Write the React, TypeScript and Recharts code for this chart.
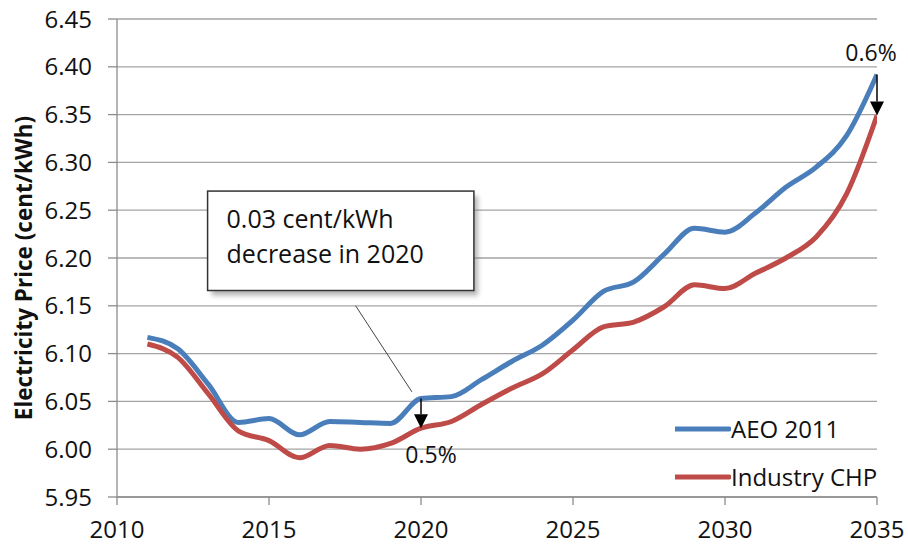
import {LineChart, Line, XAxis, YAxis, CartesianGrid, ReferenceLine, ReferenceArea, Legend} from "recharts";

const years = [
    2011, 2012, 2013, 2014, 2015, 2016, 2017, 2018, 2019, 2020, 2021, 2022, 2023,
    2024, 2025, 2026, 2027, 2028, 2029, 2030, 2031, 2032, 2033, 2034, 2035
]

const aeo2011 = [
    6.117, 6.105, 6.068, 6.028, 6.032, 6.015, 6.029, 6.028, 6.027, 6.053, 6.055, 6.073, 6.092,
    6.109, 6.135, 6.165, 6.175, 6.204, 6.231, 6.227, 6.247, 6.274, 6.295, 6.328, 6.392
]

const industryChp = [
    6.110, 6.096, 6.058, 6.019, 6.009, 5.991, 6.004, 6.000, 6.006, 6.022, 6.029, 6.047, 6.064,
    6.079, 6.104, 6.128, 6.133, 6.149, 6.172, 6.168, 6.184, 6.200, 6.222, 6.267, 6.349
]

const xTicks = [2010, 2015, 2020, 2025, 2030, 2035]
const yTicks = [5.95, 6.00, 6.05, 6.10, 6.15, 6.20, 6.25, 6.30, 6.35, 6.40, 6.45]

// arrows showing the gap between the two series
const gapYears = [2020, 2035]
const gapLabels = ["0.5%", "0.6%"]

const calloutLines = ["0.03 cent/kWh", "decrease in 2020"]

const data = years.map((year, i) => ({
    year,
    aeo: aeo2011[i],
    chp: industryChp[i]
}))

const FONT = "'Open Sans', 'Noto Sans', sans-serif"
const BLUE = "#4a7ebb"
const RED = "#be4b48"

const GapArrow = (props: any) => {
    const {x1, y1, x2, y2, labelText, below} = props
    const head = 14
    return (
        <g>
            <line x1={x1} y1={y1} x2={x2} y2={y2 - head} stroke="#000" strokeWidth={1.5}/>
            <polygon points={`${x2 - 7},${y2 - head} ${x2 + 7},${y2 - head} ${x2},${y2}`} fill="#000"/>
            <text
                x={below ? x2 + 10 : x2 - 6}
                y={below ? y2 + 35 : y1 - 13}
                textAnchor="middle"
                fontSize={23}
                fontFamily={FONT}
                fill="#111"
            >
                {labelText}
            </text>
        </g>
    )
}

const Callout = (props: any) => {
    const {x, y, width, height} = props
    return (
        <g>
            <defs>
                <filter id="calloutShadow" x="-10%" y="-10%" width="130%" height="140%">
                    <feGaussianBlur stdDeviation="2.5"/>
                </filter>
            </defs>
            <rect x={x + 4} y={y + 5} width={width} height={height} fill="#777" opacity={0.55} filter="url(#calloutShadow)"/>
            <rect x={x} y={y} width={width} height={height} fill="#fff" stroke="#333" strokeWidth={1.5}/>
            {calloutLines.map((t, i) => (
                <text key={i} x={x + 19} y={y + 37 + i * 35} fontSize={25} fontFamily={FONT} fill="#111">
                    {t}
                </text>
            ))}
        </g>
    )
}

const LegendContent = ({payload}: any) => (
    <div style={{fontFamily: FONT, fontSize: 24, color: "#111"}}>
        {(payload || []).map((entry: any, i: number) => (
            <div key={i} style={{display: "flex", alignItems: "center", height: 48}}>
                <svg width={56} height={8} style={{display: "block"}}>
                    <line x1={0} y1={4} x2={54} y2={4} stroke={entry.color} strokeWidth={5} strokeLinecap="round"/>
                </svg>
                <span style={{lineHeight: 1}}>{entry.value}</span>
            </div>
        ))}
    </div>
)

const YTitle = ({viewBox}: any) => {
    const cx = viewBox.x + 23
    const cy = viewBox.y + viewBox.height / 2 + 10
    return (
        <text
            x={cx}
            y={cy}
            transform={`rotate(-90, ${cx}, ${cy})`}
            textAnchor="middle"
            dominantBaseline="central"
            fontSize={22.5}
            fontWeight="bold"
            fontFamily={FONT}
            fill="#111"
        >
            Electricity Price (cent/kWh)
        </text>
    )
}

const App = () => {
    return (
        <div style={{position: "absolute", left: 0, top: 0, width: 908, height: 546, background: "#fff", fontFamily: FONT}}>
            <LineChart width={908} height={546} data={data} margin={{top: 19, right: 31, bottom: 0, left: 0}}>
                <CartesianGrid vertical={false} stroke="#a3a3a3" strokeWidth={1.3}/>
                <XAxis
                    dataKey="year"
                    type="number"
                    domain={[2010, 2035]}
                    ticks={xTicks}
                    height={49}
                    tickSize={8}
                    tickMargin={16}
                    stroke="#8c8c8c"
                    strokeWidth={1.3}
                    tick={{fill: "#111", fontSize: 24, fontFamily: FONT}}
                    allowDataOverflow
                />
                <YAxis
                    type="number"
                    domain={[5.95, 6.45]}
                    ticks={yTicks}
                    width={117}
                    tickSize={9}
                    tickMargin={16}
                    stroke="#8c8c8c"
                    strokeWidth={1.3}
                    tick={{fill: "#111", fontSize: 24, fontFamily: FONT}}
                    tickFormatter={(v: number) => v.toFixed(2)}
                    label={<YTitle/>}
                    allowDataOverflow
                />
                <Line
                    dataKey="aeo"
                    name="AEO 2011"
                    type="monotone"
                    stroke={BLUE}
                    strokeWidth={5}
                    dot={false}
                    isAnimationActive={false}
                />
                <Line
                    dataKey="chp"
                    name="Industry CHP"
                    type="monotone"
                    stroke={RED}
                    strokeWidth={5}
                    dot={false}
                    isAnimationActive={false}
                />
                <ReferenceArea
                    x1={2012.98}
                    x2={2021.74}
                    y1={6.166}
                    y2={6.27}
                    shape={<Callout/>}
                />
                <ReferenceLine
                    segment={[{x: 2017.85, y: 6.15}, {x: 2019.7, y: 6.06}]}
                    stroke="#444"
                    strokeWidth={1}
                />
                {gapYears.map((yr, i) => {
                    const idx = years.indexOf(yr)
                    return (
                        <ReferenceLine
                            key={yr}
                            segment={[{x: yr, y: aeo2011[idx]}, {x: yr, y: industryChp[idx]}]}
                            shape={(p: any) => <GapArrow {...p} labelText={gapLabels[i]} below={i === 0}/>}
                        />
                    )
                })}
                <Legend
                    layout="horizontal"
                    verticalAlign="middle"
                    content={<LegendContent/>}
                    wrapperStyle={{left: 675, top: 405, width: "auto", height: "auto"}}
                />
            </LineChart>
        </div>
    )
}

export default App
